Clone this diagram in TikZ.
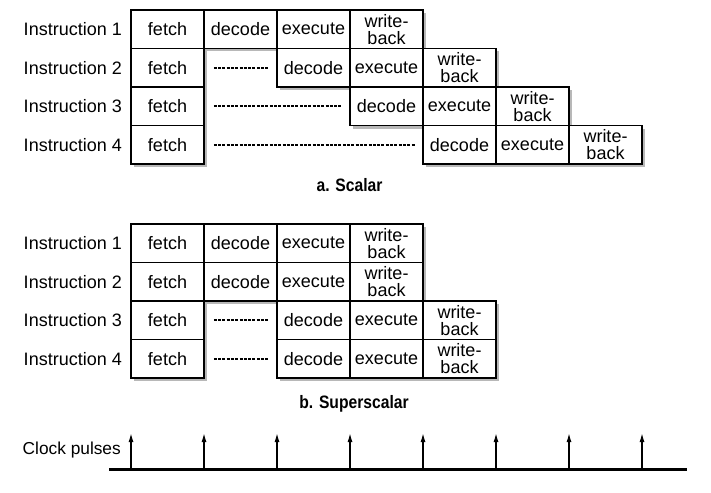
\documentclass[tikz,border=0pt]{standalone}
\usepackage{fontspec}
\setmainfont{Liberation Sans}
\newfontfamily\capfont{Liberation Sans}[FakeStretch=0.87]
\usetikzlibrary{shadows,arrows.meta}
\begin{document}
\begin{tikzpicture}[x=1pt,y=-1pt,
  cell/.style={draw=black, line width=1.5pt, fill=white, minimum width=73pt,
    minimum height=38.5pt, inner sep=0pt, align=center,
    font=\fontsize{18}{17}\selectfont,
    drop shadow={shadow xshift=3pt, shadow yshift=-3pt, fill=black!28, opacity=1}},
  lbl/.style={anchor=east, inner sep=0pt, font=\fontsize{18}{20}\selectfont},
  gap/.style={line width=2.2pt, dash pattern=on 3pt off 1.3pt},
  captxt/.style={inner sep=0pt, font=\capfont\bfseries\fontsize{18}{20}\selectfont},
  pulse/.style={line width=1.4pt, -{Latex[length=9pt,width=5pt]}},
  clockline/.style={line width=3pt}]
\useasboundingbox (0,0) rectangle (711,492);

% ---------- a. Scalar ----------
\node[lbl] (la1) at (122,29.25) {Instruction 1};
\node[lbl] (la2) at (122,67.75) {Instruction 2};
\node[lbl] (la3) at (122,106.25) {Instruction 3};
\node[lbl] (la4) at (122,144.75) {Instruction 4};

\node[cell] (a1f) at (167.5,29.25) {fetch};
\node[cell] (a1d) at (240.5,29.25) {decode};
\node[cell] (a1e) at (313.5,29.25) {execute};
\node[cell] (a1w) at (386.5,29.25) {write-\\back};

\node[cell] (a2f) at (167.5,67.75) {fetch};
\node[cell] (a2d) at (313.5,67.75) {decode};
\node[cell] (a2e) at (386.5,67.75) {execute};
\node[cell] (a2w) at (459.5,67.75) {write-\\back};

\node[cell] (a3f) at (167.5,106.25) {fetch};
\node[cell] (a3d) at (386.5,106.25) {decode};
\node[cell] (a3e) at (459.5,106.25) {execute};
\node[cell] (a3w) at (532.5,106.25) {write-\\back};

\node[cell] (a4f) at (167.5,144.75) {fetch};
\node[cell] (a4d) at (459.5,144.75) {decode};
\node[cell] (a4e) at (532.5,144.75) {execute};
\node[cell] (a4w) at (605.5,144.75) {write-\\back};

\draw[gap] ([xshift=9pt]a2f.east) -- ([xshift=-7pt]a2d.west);
\draw[gap] ([xshift=9pt]a3f.east) -- ([xshift=-7pt]a3d.west);
\draw[gap] ([xshift=9pt]a4f.east) -- ([xshift=-7pt]a4d.west);

\node[captxt] (capa) at (349.5,185) {a. Scalar};

% ---------- b. Superscalar ----------
\node[lbl] (lb1) at (122,243.25) {Instruction 1};
\node[lbl] (lb2) at (122,281.75) {Instruction 2};
\node[lbl] (lb3) at (122,320.25) {Instruction 3};
\node[lbl] (lb4) at (122,358.75) {Instruction 4};

\node[cell] (b1f) at (167.5,243.25) {fetch};
\node[cell] (b1d) at (240.5,243.25) {decode};
\node[cell] (b1e) at (313.5,243.25) {execute};
\node[cell] (b1w) at (386.5,243.25) {write-\\back};

\node[cell] (b2f) at (167.5,281.75) {fetch};
\node[cell] (b2d) at (240.5,281.75) {decode};
\node[cell] (b2e) at (313.5,281.75) {execute};
\node[cell] (b2w) at (386.5,281.75) {write-\\back};

\node[cell] (b3f) at (167.5,320.25) {fetch};
\node[cell] (b3d) at (313.5,320.25) {decode};
\node[cell] (b3e) at (386.5,320.25) {execute};
\node[cell] (b3w) at (459.5,320.25) {write-\\back};

\node[cell] (b4f) at (167.5,358.75) {fetch};
\node[cell] (b4d) at (313.5,358.75) {decode};
\node[cell] (b4e) at (386.5,358.75) {execute};
\node[cell] (b4w) at (459.5,358.75) {write-\\back};

\draw[gap] ([xshift=9pt]b3f.east) -- ([xshift=-7pt]b3d.west);
\draw[gap] ([xshift=9pt]b4f.east) -- ([xshift=-7pt]b4d.west);

\node[captxt] (capb) at (354,404) {b. Superscalar};

% ---------- Clock ----------
\node[lbl, font=\fontsize{17.3}{20}\selectfont] (clk) at (121,450) {Clock pulses};
\coordinate (bl) at (109,469);
\coordinate (br) at (687,469);
\draw[clockline] (bl) -- (br);
\foreach \i in {0,...,7}{
  \coordinate (p\i b) at (131+73*\i,469);
  \coordinate (p\i t) at (131+73*\i,433);
  \draw[pulse] (p\i b) -- (p\i t);
}
\end{tikzpicture}
\end{document}
